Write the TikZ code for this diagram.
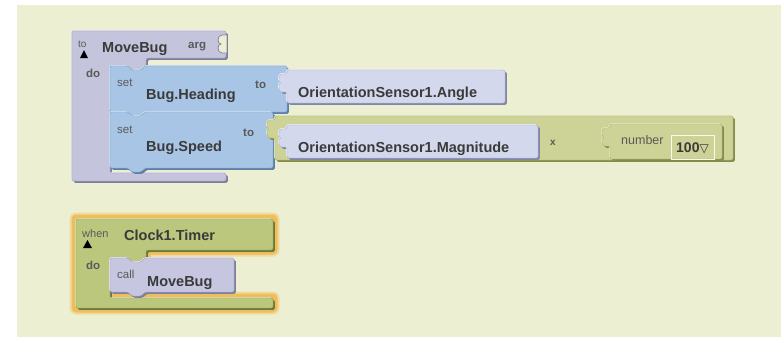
\documentclass[tikz,border=0pt]{standalone}
\usepackage{fontspec}
\setmainfont{Liberation Sans}
\newfontfamily\dejavu{DejaVu Sans}
\definecolor{bg}{HTML}{EDEFD2}
\definecolor{procP}{HTML}{C4C4DC}
\definecolor{procD}{HTML}{7E7E9E}
\definecolor{setB}{HTML}{A8C5E6}
\definecolor{setD}{HTML}{5E7EA6}
\definecolor{valL}{HTML}{D3D8EC}
\definecolor{valD}{HTML}{7F87A8}
\definecolor{mulO}{HTML}{CDD296}
\definecolor{mulD}{HTML}{868B4C}
\definecolor{evtG}{HTML}{BAC77C}
\definecolor{evtD}{HTML}{6C7838}
\definecolor{callP}{HTML}{C6C6E0}
\definecolor{glowc}{HTML}{F0B648}
\definecolor{txt}{HTML}{3A3A3A}
\definecolor{sub}{HTML}{5A5A5A}
\tikzset{
  blkc/.style={rounded corners=1.5pt},
  big/.style={font=\fontsize{14.5}{16}\selectfont\bfseries, text=txt, inner sep=0pt, anchor=base west},
  small/.style={font=\fontsize{11.5}{13}\selectfont, text=sub, inner sep=0pt, anchor=base west},
  smallb/.style={font=\fontsize{11.5}{13}\selectfont\bfseries, text=sub, inner sep=0pt, anchor=base west},
}
% block outlines
\newcommand\shapeMB[1]{\path[#1] (72,31) -- (226,31) -- (226,58) -- (146,58) -- (146,66) -- (145,66) -- (141,70) -- (132,70) -- (128,66) -- (110,66) -- (110,173) -- (226,173) -- (226,181) -- (72,181) -- cycle;}
\newcommand\shapeHead[1]{\path[#1] (110,66) -- (128,66) -- (132,70) -- (141,70) -- (145,66) -- (287,66) -- (287,112) -- (145,112) -- (141,116) -- (132,116) -- (128,112) -- (110,112) -- cycle;}
\newcommand\shapeSpeed[1]{\path[#1] (110,112) -- (128,112) -- (132,116) -- (141,116) -- (145,112) -- (273,112) -- (273,168) -- (145,168) -- (141,172) -- (132,172) -- (128,168) -- (110,168) -- cycle;}
\newcommand\shapeAngle[1]{\path[#1] (287,70) -- (505,70) -- (505,103) -- (287,103) -- (287,92) -- (283,92) to[out=180,in=-90] (279,87) to[out=90,in=180] (282,83) to[out=180,in=-90] (279,79) to[out=90,in=180] (283,74) -- (287,74) -- cycle;}
\newcommand\shapeMul[1]{\path[#1] (275,116) -- (733,116) -- (733,160) -- (275,160) -- (275,138) -- (271,138) to[out=180,in=-90] (267,133) to[out=90,in=180] (270,129) to[out=180,in=-90] (267,125) to[out=90,in=180] (271,120) -- (275,120) -- cycle;}
\newcommand\shapeMag[1]{\path[#1] (287,125) -- (538,125) -- (538,158) -- (287,158) -- (287,147) -- (283,147) to[out=180,in=-90] (279,142) to[out=90,in=180] (282,138) to[out=180,in=-90] (279,134) to[out=90,in=180] (283,129) -- (287,129) -- cycle;}
\newcommand\shapeNum[1]{\path[#1] (610,124) -- (722,124) -- (722,159) -- (610,159) -- (610,146) -- (606,146) to[out=180,in=-90] (602,141) to[out=90,in=180] (605,137) to[out=180,in=-90] (602,133) to[out=90,in=180] (606,128) -- (610,128) -- cycle;}
\newcommand\shapeTimer[1]{\path[#1] (76,219) -- (273,219) -- (273,250) -- (146,250) -- (146,258) -- (145,258) -- (141,262) -- (132,262) -- (128,258) -- (110,258) -- (110,298) -- (273,298) -- (273,308) -- (76,308) -- cycle;}
\newcommand\shapeCall[1]{\path[#1] (110,258) -- (128,258) -- (132,262) -- (141,262) -- (145,258) -- (234,258) -- (234,292) -- (145,292) -- (141,296) -- (132,296) -- (128,292) -- (110,292) -- cycle;}
\newcommand\bev[3]{#1{fill=#3, shift={(1.8,1.8)}, blkc}#1{fill=white!45!#2, shift={(-0.8,-0.8)}, blkc}#1{fill=#2, blkc}#1{draw=#3!50!#2, line width=0.4pt, blkc}}
\begin{document}
\begin{tikzpicture}[x=1pt,y=-1pt]
\useasboundingbox (0,0) rectangle (781,338);
\fill[white] (0,0) rectangle (781,338);
\fill[bg] (17,5) rectangle (781,337);

% procedure MoveBug
\bev{\shapeMB}{procP}{procD}
% empty arg socket
\fill[bg] (226.6,35) -- (222,35) to[out=180,in=90] (218,40) to[out=-90,in=180] (221,44) to[out=180,in=90] (218,48) to[out=-90,in=180] (222,53) -- (226.6,53) -- cycle;
\draw[procD, line width=0.7pt] (226,35) -- (222,35) to[out=180,in=90] (218,40) to[out=-90,in=180] (221,44) to[out=180,in=90] (218,48) to[out=-90,in=180] (222,53) -- (226,53);
\fill[black] (80,58) -- (88,58) -- (84,50) -- cycle;

% set blocks
\bev{\shapeHead}{setB}{setD}
\bev{\shapeSpeed}{setB}{setD}
% values
\bev{\shapeAngle}{valL}{valD}
\bev{\shapeMul}{mulO}{mulD}
\bev{\shapeMag}{valL}{valD}
\bev{\shapeNum}{mulO}{mulD}
\draw[white!85!mulO, line width=0.8pt] (671,135) rectangle (714,159);

% texts of procedure
\node[small, font=\fontsize{10}{12}\selectfont] (tTo) at (78,47) {to};
\node[big] (tMoveBug) at (102,52) {MoveBug};
\node[smallb] (tArg) at (188,48) {arg};
\node[smallb] (tDo1) at (86,77) {do};
\node[small] (tSet1) at (117,86) {set};
\node[big] (tHeading) at (146,99) {Bug.Heading};
\node[smallb] (tTo1) at (255,88) {to};
\node[small] (tSet2) at (117,133) {set};
\node[big] (tSpeed) at (146,151) {Bug.Speed};
\node[smallb] (tTo2) at (243,136) {to};
\node[big] (tAngle) at (298,97) {OrientationSensor1.Angle};
\node[big] (tMag) at (298,152) {OrientationSensor1.Magnitude};
\node[smallb, font=\fontsize{10}{12}\selectfont\bfseries] (tX) at (550,145) {x};
\node[small, font=\fontsize{12.5}{14}\selectfont] (tNumber) at (621,144) {number};
\node[big, font=\fontsize{14}{16}\selectfont\bfseries] (tHundred) at (676,152) {100{\dejavu\fontsize{12}{14}\selectfont ▽}};

% event block with glow
\shapeTimer{draw=glowc, line width=13pt, line join=round, opacity=0.35}
\shapeTimer{draw=glowc, line width=9pt, line join=round, opacity=0.8}
\bev{\shapeTimer}{evtG}{evtD}
\bev{\shapeCall}{callP}{procD}
\fill[black] (83,248) -- (92,248) -- (87.5,240) -- cycle;
\node[small, font=\fontsize{11}{13}\selectfont] (tWhen) at (82,237) {when};
\node[big] (tClock) at (124,240) {Clock1.Timer};
\node[smallb] (tDo2) at (86,269) {do};
\node[small] (tCall) at (117,278) {call};
\node[big] (tMoveBug2) at (147,286) {MoveBug};
\end{tikzpicture}
\end{document}
